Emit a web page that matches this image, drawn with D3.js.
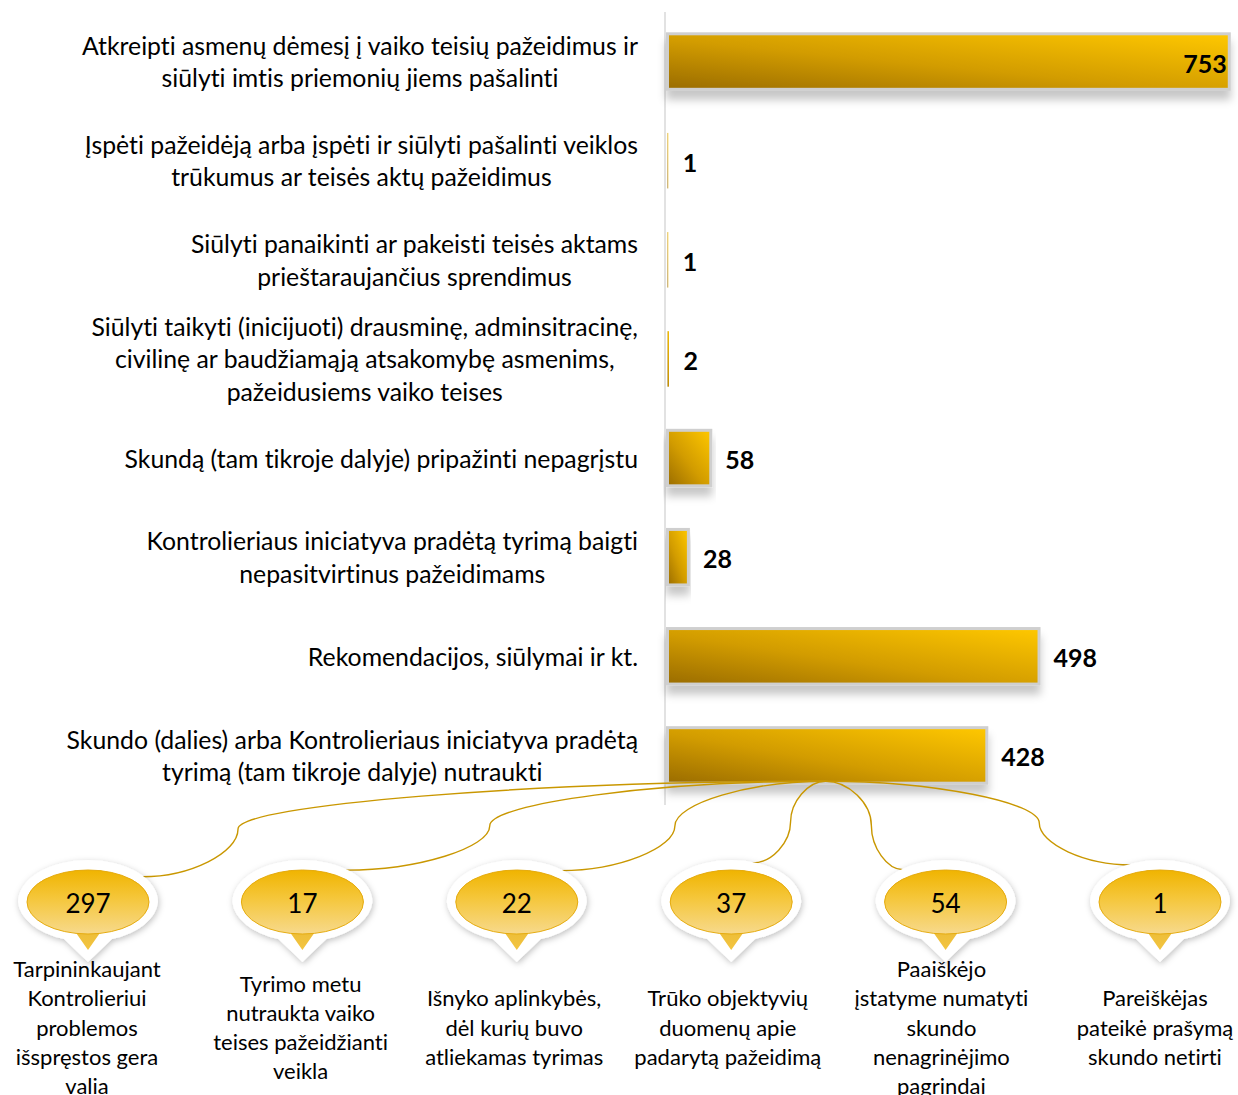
<!DOCTYPE html>
<html>
<head>
<meta charset="utf-8">
<script src="https://cdn.jsdelivr.net/npm/d3@7"></script>
<style>
  body { margin: 0; background: #fff; }
  text { font-family: Lato, "Noto Sans", sans-serif; font-variant-ligatures: none; }
</style>
</head>
<body>
<svg id="chart"></svg>
<script>
// main bars
var categories = [
  ["Atkreipti asmenų dėmesį į vaiko teisių pažeidimus ir", "siūlyti imtis priemonių jiems pašalinti"],
  ["Įspėti pažeidėją arba įspėti ir siūlyti pašalinti veiklos", "trūkumus ar teisės aktų pažeidimus"],
  ["Siūlyti panaikinti ar pakeisti teisės aktams", "prieštaraujančius sprendimus"],
  ["Siūlyti taikyti (inicijuoti) drausminę, adminsitracinę,", "civilinę ar baudžiamąją atsakomybę asmenims,", "pažeidusiems vaiko teises"],
  ["Skundą (tam tikroje dalyje) pripažinti nepagrįstu"],
  ["Kontrolieriaus iniciatyva pradėtą tyrimą baigti", "nepasitvirtinus pažeidimams"],
  ["Rekomendacijos, siūlymai ir kt."],
  ["Skundo (dalies) arba Kontrolieriaus iniciatyva pradėtą", "tyrimą (tam tikroje dalyje) nutraukti"]
]
var values = [753, 1, 1, 2, 58, 28, 498, 428]

// breakdown of the last bar
var subCategories = [
  ["Tarpininkaujant", "Kontrolieriui", "problemos", "išspręstos gera", "valia"],
  ["Tyrimo metu", "nutraukta vaiko", "teises pažeidžianti", "veikla"],
  ["Išnyko aplinkybės,", "dėl kurių buvo", "atliekamas tyrimas"],
  ["Trūko objektyvių", "duomenų apie", "padarytą pažeidimą"],
  ["Paaiškėjo", "įstatyme numatyti", "skundo", "nenagrinėjimo", "pagrindai"],
  ["Pareiškėjas", "pateikė prašymą", "skundo netirti"]
]
var subValues = [297, 17, 22, 37, 54, 1]

// connector shape: where the curve bends, and where it meets the bubble
var linkAdj = [0.86, 0.70, 0.57, 0.48, 0.59, 0.70]
var linkAngle = [-38, -51, -50, -72, -128, -115]

var W = 1238, H = 1095
var svg = d3.select("#chart").attr("width", W).attr("height", H)
var defs = svg.append("defs")

var barGrad = defs.append("linearGradient").attr("id", "barGrad")
    .attr("x1", 0).attr("y1", 1).attr("x2", 1).attr("y2", 0)
barGrad.append("stop").attr("offset", "0%").attr("stop-color", "#9a6c00")
barGrad.append("stop").attr("offset", "45%").attr("stop-color", "#d29c00")
barGrad.append("stop").attr("offset", "100%").attr("stop-color", "#ffc800")

var bubGrad = defs.append("linearGradient").attr("id", "bubGrad")
    .attr("x1", 0).attr("y1", 0).attr("x2", 0).attr("y2", 1)
bubGrad.append("stop").attr("offset", "0%").attr("stop-color", "#f0b400")
bubGrad.append("stop").attr("offset", "45%").attr("stop-color", "#f5c73c")
bubGrad.append("stop").attr("offset", "100%").attr("stop-color", "#f7d98c")

var triGrad = defs.append("linearGradient").attr("id", "triGrad")
    .attr("x1", 0).attr("y1", 0).attr("x2", 0).attr("y2", 1)
triGrad.append("stop").attr("offset", "0%").attr("stop-color", "#d9a317")
triGrad.append("stop").attr("offset", "100%").attr("stop-color", "#f3c541")

var shadow = defs.append("filter").attr("id", "shadow")
    .attr("x", "-10%").attr("y", "-30%").attr("width", "120%").attr("height", "180%")
shadow.append("feDropShadow").attr("dx", 0).attr("dy", 9).attr("stdDeviation", 4)
    .attr("flood-color", "#000").attr("flood-opacity", 0.22)

var halo = defs.append("filter").attr("id", "halo")
    .attr("x", "-30%").attr("y", "-30%").attr("width", "160%").attr("height", "160%")
halo.append("feDropShadow").attr("dx", 1).attr("dy", 2).attr("stdDeviation", 3)
    .attr("flood-color", "#000").attr("flood-opacity", 0.25)

var x = d3.scaleLinear()
    .domain([0, 760])
    .range([666, 1233])

var y = d3.scaleBand()
    .domain(d3.range(categories.length))
    .range([12, 805])
    .paddingInner(0.44)
    .paddingOuter(0.22)

// axis line
svg.append("line")
    .attr("x1", 665).attr("x2", 665)
    .attr("y1", 12).attr("y2", 805)
    .attr("stroke", "#d9d9d9").attr("stroke-width", 1.5)

// category labels (block right aligned, lines centered)
var labelRight = 638
categories.forEach(function(lines, i){
    var g = svg.append("g")
    var cy = y(i) + y.bandwidth() / 2
    var t = g.selectAll("text").data(lines).enter().append("text")
        .attr("font-size", "24.8px")
        .attr("fill", "#000")
        .attr("text-anchor", "middle")
        .attr("dominant-baseline", "central")
        .attr("y", function(d, j){ return cy + (j - (lines.length - 1) / 2) * 32.5 })
        .text(function(d){ return d })
    var maxW = d3.max(t.nodes(), function(n){ return n.getComputedTextLength() })
    t.attr("x", labelRight - maxW / 2)
})

// bars
svg.append("g").selectAll("rect")
    .data(values)
    .enter()
    .append("rect")
    .attr("x", x(0) + 1.5)
    .attr("y", function(d, i){ return y(i) })
    .attr("width", function(d){ return Math.max(x(d) - x(0), 0.5) })
    .attr("height", y.bandwidth())
    .attr("fill", "url(#barGrad)")
    .attr("stroke", function(d){ return d > 5 ? "#cfcfcf" : "none" })
    .attr("stroke-width", 3)
    .attr("filter", function(d){ return d > 5 ? "url(#shadow)" : null })

// value labels
svg.append("g").selectAll("text")
    .data(values)
    .enter()
    .append("text")
    .attr("font-size", "25px")
    .attr("font-weight", "bold")
    .attr("dominant-baseline", "central")
    .attr("x", function(d){ return x(d) + 50 > W ? x(d) - 1 : x(d) + 16 })
    .attr("text-anchor", function(d){ return x(d) + 50 > W ? "end" : "start" })
    .attr("y", function(d, i){ return y(i) + y.bandwidth() / 2 + 1 })
    .text(function(d){ return d })

// breakdown bubbles
var bx = d3.scalePoint()
    .domain(d3.range(subValues.length))
    .range([88, 1160])
var lx = d3.scalePoint()
    .domain(d3.range(subValues.length))
    .range([87, 1155])
var bubbleY = 902
var rx = 61, ry = 32

var last = values.length - 1
var start = [(x(0) + x(values[last])) / 2, y(last) + y.bandwidth() - 2]

// connectors
svg.append("g").selectAll("path")
    .data(subValues)
    .enter()
    .append("path")
    .attr("fill", "none")
    .attr("stroke", "#c99700")
    .attr("stroke-width", 1.4)
    .attr("d", function(d, i){
        var a = linkAngle[i] * Math.PI / 180
        var ex = bx(i) + Math.cos(a) * (rx + 8)
        var ey = bubbleY + Math.sin(a) * (ry + 9)
        var sx = start[0], sy = start[1]
        var mx = sx + (ex - sx) * linkAdj[i]
        var my = (sy + ey) / 2
        var h = ey - sy
        return "M" + sx + "," + sy +
            "C" + (sx + (mx - sx) / 2) + "," + sy + " " + mx + "," + (sy + h / 4) + " " + mx + "," + my +
            "C" + mx + "," + (sy + 3 * h / 4) + " " + ((mx + ex) / 2) + "," + ey + " " + ex + "," + ey
    })

function bubblePath(cx, cy, ex, ey, tw, tb, tt){
    // ellipse with a small pointer hanging under it
    return "M" + (cx - ex) + "," + cy +
        "A" + ex + "," + ey + " 0 0 1 " + (cx + ex) + "," + cy +
        "A" + ex + "," + ey + " 0 0 1 " + (cx + tw) + "," + (cy + tb) +
        "L" + cx + "," + (cy + tt) +
        "L" + (cx - tw) + "," + (cy + tb) +
        "A" + ex + "," + ey + " 0 0 1 " + (cx - ex) + "," + cy + "Z"
}

var bubbles = svg.append("g").selectAll("g")
    .data(subValues)
    .enter()
    .append("g")

bubbles.append("path")
    .attr("d", function(d, i){ return bubblePath(bx(i), bubbleY, rx + 9, ry + 10, 24, ry + 5, 60) })
    .attr("fill", "#fff")
    .attr("filter", "url(#halo)")

bubbles.append("path")
    .attr("d", function(d, i){ return bubblePath(bx(i), bubbleY, rx, ry, 14, ry - 4, 48) })
    .attr("fill", "url(#triGrad)")

bubbles.append("ellipse")
    .attr("cx", function(d, i){ return bx(i) })
    .attr("cy", bubbleY)
    .attr("rx", rx)
    .attr("ry", ry)
    .attr("fill", "url(#bubGrad)")
    .attr("stroke", "#e6ac10")
    .attr("stroke-width", 1)

bubbles.append("text")
    .attr("x", function(d, i){ return bx(i) })
    .attr("y", bubbleY + 1)
    .attr("text-anchor", "middle")
    .attr("dominant-baseline", "central")
    .attr("font-size", "26px")
    .attr("fill", "#000")
    .text(function(d){ return d })

// breakdown labels, centered around one line
subCategories.forEach(function(lines, i){
    svg.append("g").selectAll("text")
        .data(lines)
        .enter()
        .append("text")
        .attr("x", lx(i))
        .attr("y", function(d, j){ return 1027 + (j - (lines.length - 1) / 2) * 29.2 })
        .attr("text-anchor", "middle")
        .attr("dominant-baseline", "central")
        .attr("font-size", "22px")
        .attr("fill", "#000")
        .text(function(d){ return d })
})
</script>
</body>
</html>
